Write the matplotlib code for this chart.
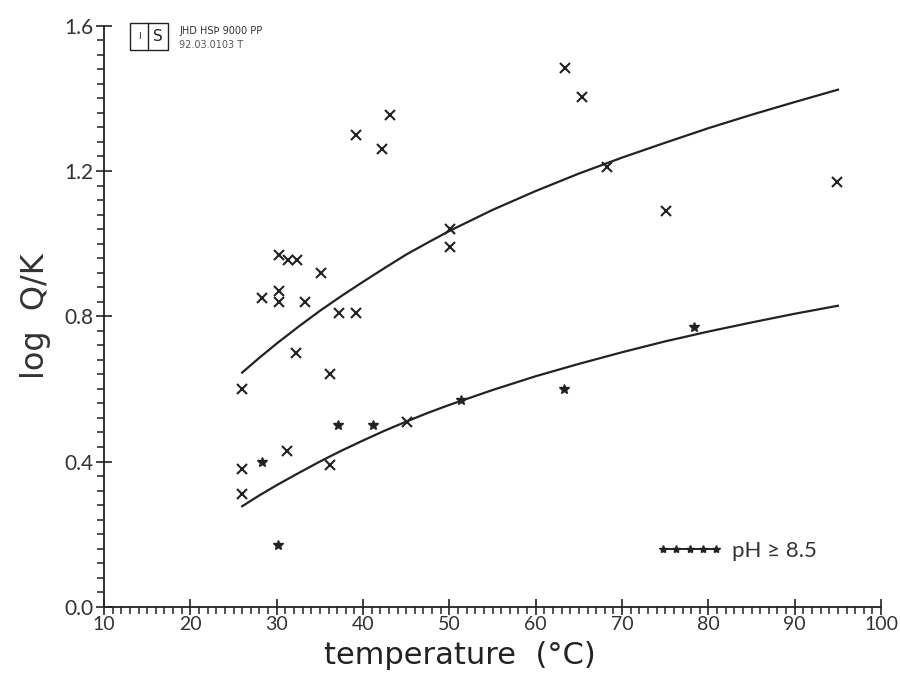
import matplotlib
matplotlib.use("Agg")
import matplotlib.pyplot as plt
from matplotlib.lines import Line2D
from matplotlib.patches import Rectangle
from matplotlib.ticker import MultipleLocator

plt.rcParams["font.family"] = ["Lato", "DejaVu Sans"]

# samples (x markers)
cross_t = [26, 26, 26, 28.3, 30.3, 30.3, 30.3, 31.3, 32.4, 31.2, 32.2, 33.3, 35.1,
           37.2, 39.2, 36.2, 36.2, 39.2, 42.2, 43.1, 45.1, 50.1, 50.1,
           63.4, 65.4, 68.2, 75.1, 94.9]
cross_q = [0.60, 0.38, 0.31, 0.85, 0.97, 0.87, 0.84, 0.955, 0.955, 0.43, 0.70, 0.84, 0.92,
           0.81, 0.81, 0.64, 0.39, 1.30, 1.26, 1.355, 0.51, 1.04, 0.99,
           1.485, 1.405, 1.21, 1.09, 1.17]

# samples with pH > 8.5 (stars)
star_t = [28.3, 30.2, 37.1, 41.2, 51.3, 63.3, 78.3]
star_q = [0.40, 0.17, 0.50, 0.50, 0.57, 0.60, 0.77]

# fitted curves
curve_t = [26, 28, 30, 32.5, 35, 37.5, 40, 42.5, 45, 47.5, 50, 55, 60, 65, 70,
           75, 80, 85, 90, 95]
upper_q = [0.645, 0.686, 0.725, 0.771, 0.815, 0.856, 0.895, 0.933, 0.97, 1.003,
           1.035, 1.093, 1.145, 1.193, 1.237, 1.278, 1.318, 1.355, 1.39, 1.424]
lower_q = [0.277, 0.307, 0.335, 0.368, 0.400, 0.430, 0.458, 0.485, 0.51, 0.534,
           0.556, 0.597, 0.635, 0.669, 0.701, 0.731, 0.758, 0.783, 0.807, 0.829]

fig = plt.figure(figsize=(9, 6.78), dpi=100)
ax = fig.add_axes([0.1156, 0.105, 0.8634, 0.857])

ink = "#222222"
ax.plot(curve_t, upper_q, color=ink, lw=1.6)
ax.plot(curve_t, lower_q, color=ink, lw=1.6)
ax.plot(cross_t, cross_q, ls="none", marker="x", ms=6.5, mew=1.5, color=ink)
ax.plot(star_t, star_q, ls="none", marker="*", ms=7, color=ink)

ax.set_xlim(10, 100)
ax.set_ylim(0, 1.6)
ax.spines["top"].set_visible(False)
ax.spines["right"].set_visible(False)
ax.spines["left"].set_color(ink)
ax.spines["bottom"].set_color(ink)
ax.spines["left"].set_linewidth(1.3)
ax.spines["bottom"].set_linewidth(1.3)

ax.xaxis.set_major_locator(MultipleLocator(10))
ax.xaxis.set_minor_locator(MultipleLocator(1))
ax.yaxis.set_major_locator(MultipleLocator(0.4))
ax.yaxis.set_minor_locator(MultipleLocator(0.04))
ax.tick_params(which="major", direction="inout", length=11, width=1.2, color=ink,
               labelsize=15, labelcolor="#333333", pad=2)
ax.tick_params(axis="x", which="major", labelsize=14, pad=1)
ax.tick_params(which="minor", direction="out", length=5, width=1.1, color=ink)
ax.set_xticklabels([f"{int(v)}" for v in ax.get_xticks()])
ax.set_yticklabels([f"{v:.1f}" for v in ax.get_yticks()])

ax.set_xlabel("temperature  (°C)", fontsize=22, color="#222222",
              family="DejaVu Sans")
ax.xaxis.set_label_coords(0.458, -0.058)
ax.set_ylabel("log  Q/K", fontsize=23, color="#333333", labelpad=10,
              family="DejaVu Sans")

# legend for the pH > 8.5 samples
h = Line2D([], [], color=ink, lw=1.4, marker="*", ms=6)
ax.legend([h], ["pH ≥ 8.5"], loc="lower left", bbox_to_anchor=(0.685, 0.045),
          numpoints=5, handlelength=3.0, handletextpad=0.4, frameon=False,
          fontsize=16, labelcolor="#333333")

# logo box top-left
ax.add_patch(Rectangle((0.033, 0.959), 0.049, 0.046, transform=ax.transAxes,
                       fill=False, lw=1.0, color=ink, clip_on=False))
ax.plot([0.057, 0.057], [0.959, 1.005], transform=ax.transAxes, color=ink, lw=1.0,
        clip_on=False)
ax.text(0.045, 0.982, "I", transform=ax.transAxes, fontsize=7, ha="center",
        va="center", color=ink)
ax.text(0.0695, 0.982, "S", transform=ax.transAxes, fontsize=11, ha="center",
        va="center", color=ink, family="DejaVu Sans")
ax.text(0.097, 0.991, "JHD HSÞ 9000 PP", transform=ax.transAxes, fontsize=7,
        va="center", color="#333333", family="DejaVu Sans")
ax.text(0.097, 0.967, "92.03.0103 T", transform=ax.transAxes, fontsize=7,
        va="center", color="#555555", family="DejaVu Sans")

fig.savefig("out.png", dpi=100, facecolor="white")
